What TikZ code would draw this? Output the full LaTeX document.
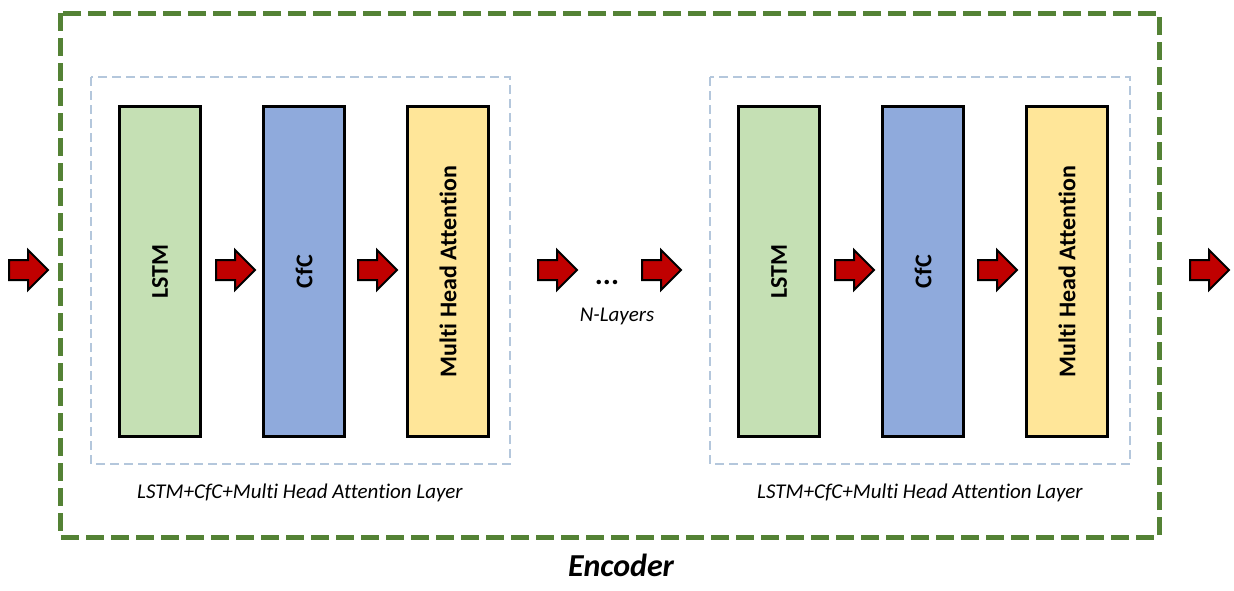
\documentclass[tikz,border=0pt]{standalone}
\usepackage{fontspec}
\setmainfont[Ligatures=NoCommon]{Carlito}
\definecolor{encgreen}{HTML}{548235}
\definecolor{laybl}{HTML}{B4C7DC}
\definecolor{lstmc}{HTML}{C5E0B4}
\definecolor{cfcc}{HTML}{8FAADC}
\definecolor{mhac}{HTML}{FFE699}
\definecolor{arrred}{HTML}{C00000}
\tikzset{
  blk/.style={draw=black, line width=3pt, minimum width=81pt, minimum height=330pt, inner sep=0pt, anchor=north west},
  blktext/.style={rotate=90, font=\fontsize{24}{28}\selectfont\bfseries},
  layerbox/.style={draw=laybl, line width=2.5pt, dash pattern=on 9pt off 5pt},
  encbox/.style={draw=encgreen, line width=5pt, dash pattern=on 18pt off 7pt},
  layerlabel/.style={font=\fontsize{21}{25}\selectfont\itshape},
  redarrow/.pic={\draw[fill=arrred, draw=black, line width=2pt, line join=miter]
     (-19,-10) -- (0,-10) -- (0,-20) -- (20,0) -- (0,20) -- (0,10) -- (-19,10) -- cycle;}
}
\begin{document}
\begin{tikzpicture}[x=1pt,y=-1pt]
\useasboundingbox (0,0) rectangle (1234,590);
\draw[encbox] (60,13) rectangle (1159,537);
\draw[layerbox] (91,77) rectangle (510,464);
\draw[layerbox] (710,77) rectangle (1130,464);
% left layer
\node[blk, fill=lstmc] (l1) at (118,105) {};
\node[blk, fill=cfcc] (c1) at (262,105) {};
\node[blk, fill=mhac] (m1) at (406,105) {};
\node[blktext] at (l1.center) {LSTM};
\node[blktext] at (c1.center) {CfC};
\node[blktext] at (m1.center) {Multi Head Attention};
% right layer
\node[blk, fill=lstmc] (l2) at (737,105) {};
\node[blk, fill=cfcc] (c2) at (881,105) {};
\node[blk, fill=mhac] (m2) at (1025,105) {};
\node[blktext] at (l2.center) {LSTM};
\node[blktext] at (c2.center) {CfC};
\node[blktext] at (m2.center) {Multi Head Attention};
% arrows
\foreach \x/\n in {28/a0,235/a1,377/a2,557/a3,661/a4,854/a5,997/a6,1209/a7}
  \pic (\n) at (\x,270) {redarrow};
\node[font=\fontsize{30}{32}\selectfont\bfseries] (dots) at (607,282) {...};
\node[layerlabel] (nl) at (617,316) {N-Layers};
\node[layerlabel] (lab1) at (300,493) {LSTM+CfC+Multi Head Attention Layer};
\node[layerlabel] (lab2) at (920,493) {LSTM+CfC+Multi Head Attention Layer};
\node[font=\fontsize{32}{36}\selectfont\bfseries\itshape] (enc) at (621,565) {Encoder};
\end{tikzpicture}
\end{document}
